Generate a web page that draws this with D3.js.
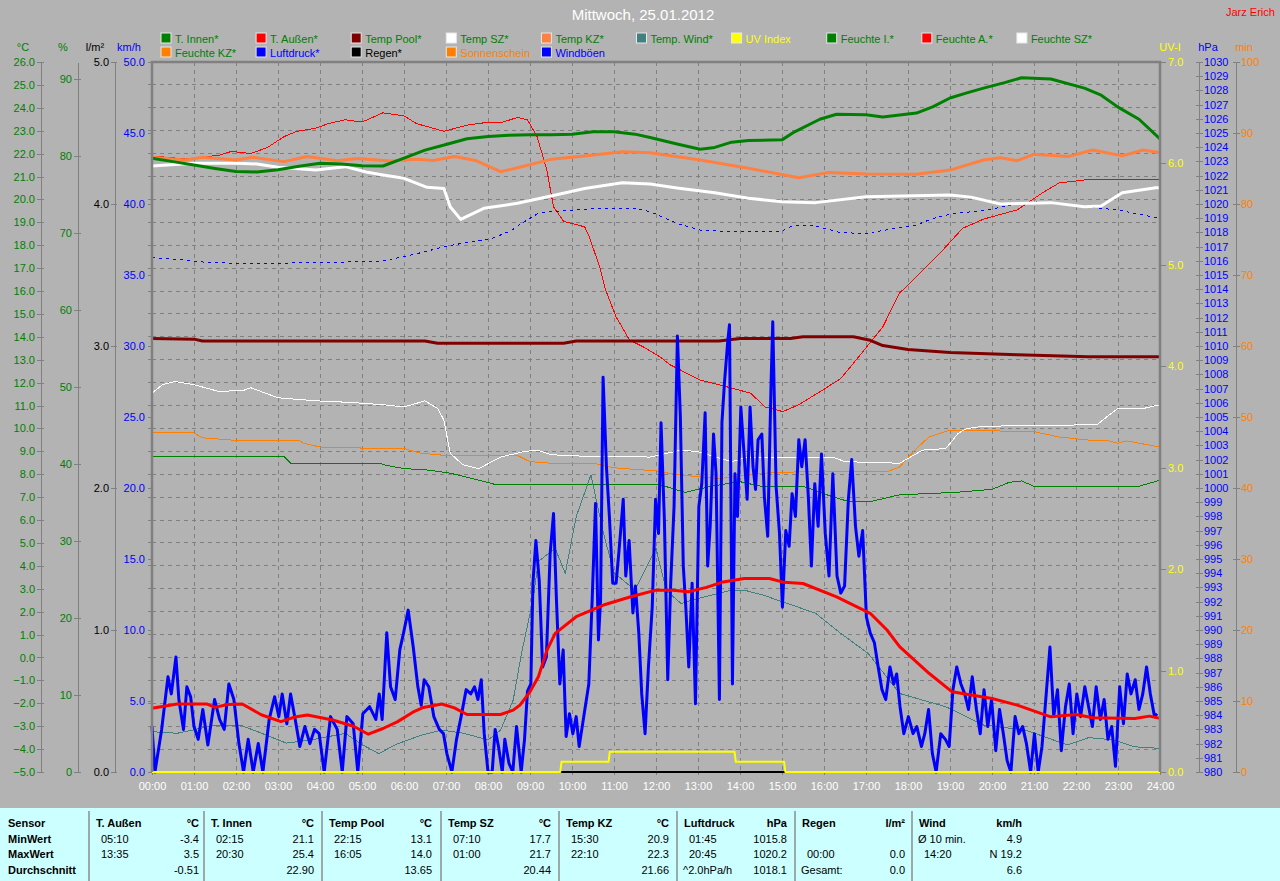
<!DOCTYPE html>
<html>
<head>
<meta charset="utf-8">
<script src="https://cdn.jsdelivr.net/npm/d3@7"></script>
<style>
  body { margin: 0; background: #b3b3b3; }
  svg { display: block; font-family: "Liberation Sans", Arial, sans-serif; }
</style>
</head>
<body>
<svg id="chart" width="1280" height="881"></svg>
<script>
// values, [hour, value]
const tInnen = [[0,21.8],[0.5,21.65],[1,21.5],[1.5,21.35],[2,21.22],[2.5,21.2],[3,21.3],[3.5,21.45],[4,21.58],[4.5,21.55],[5,21.47],[5.5,21.46],[6,21.8],[6.5,22.15],[7,22.4],[7.5,22.65],[8,22.75],[8.5,22.8],[9,22.82],[9.5,22.82],[10,22.85],[10.5,22.95],[11,22.95],[11.5,22.85],[11.86,22.7],[12.5,22.42],[13.05,22.19],[13.4,22.27],[13.8,22.5],[14.2,22.57],[15,22.6],[15.3,22.95],[15.9,23.5],[16.3,23.72],[17,23.7],[17.4,23.6],[18.2,23.77],[18.6,24.05],[19,24.43],[19.4,24.65],[19.8,24.86],[20.3,25.1],[20.7,25.31],[21.4,25.26],[22.2,24.86],[22.6,24.55],[23,24.03],[23.5,23.5],[24,22.64]];
const tAussen = [[0,-2.22],[0.6,-2.03],[1.3,-2.03],[1.5,-2.18],[1.8,-2.05],[2.15,-2.03],[2.6,-2.5],[3.07,-2.8],[3.4,-2.6],[3.7,-2.51],[4.3,-2.73],[4.8,-3.0],[5.15,-3.35],[5.5,-3.1],[5.85,-2.8],[6.2,-2.4],[6.46,-2.18],[6.9,-2.03],[7.2,-2.2],[7.5,-2.49],[8.3,-2.49],[8.6,-2.3],[8.76,-2.08],[9.0,-1.5],[9.2,-0.84],[9.4,0.3],[9.6,1.05],[10.1,1.78],[10.75,2.29],[11.4,2.65],[12,2.94],[12.4,2.94],[12.77,2.87],[13.2,3.06],[13.6,3.3],[14.1,3.45],[14.7,3.45],[15.05,3.28],[15.5,3.23],[16.3,2.65],[17.1,1.93],[17.5,1.2],[17.8,0.47],[18.5,-0.69],[19.05,-1.5],[20,-1.79],[20.6,-2.08],[21.4,-2.59],[22,-2.49],[22.4,-2.63],[23.4,-2.66],[23.75,-2.56],[24,-2.66]];
const tempPool = [[0,13.93],[1,13.9],[1.2,13.82],[6.5,13.82],[6.8,13.72],[9.8,13.72],[10.1,13.82],[13.5,13.82],[14,13.93],[15.2,13.93],[15.5,14.0],[16.7,14.0],[17.1,13.85],[17.4,13.62],[18,13.45],[19,13.32],[20.6,13.22],[22.3,13.13],[24,13.13]];
const tempSZ = [[0,21.46],[1,21.58],[2,21.58],[2.5,21.55],[3,21.4],[3.9,21.28],[4.6,21.43],[5.1,21.2],[5.5,21.07],[6,20.92],[6.55,20.53],[6.95,20.48],[7.1,19.68],[7.35,19.13],[7.9,19.61],[8.7,19.83],[9.5,20.15],[10.3,20.48],[11.2,20.73],[11.86,20.67],[12.5,20.5],[13.4,20.29],[14.2,20.05],[15,19.9],[15.8,19.86],[17,20.12],[19,20.19],[19.5,20.1],[20.2,19.8],[21.4,19.86],[22.2,19.68],[22.6,19.71],[23.1,20.29],[23.9,20.51],[24,20.51]];
const tempKZ = [[0,21.84],[0.8,21.72],[1.2,21.84],[2,21.72],[2.4,21.84],[3.14,21.65],[3.7,21.87],[4.4,21.69],[4.9,21.79],[5.67,21.68],[6.3,21.75],[6.7,21.7],[7.2,21.87],[7.7,21.7],[8.3,21.21],[8.8,21.43],[9.5,21.75],[10.3,21.9],[11.2,22.08],[11.86,22.04],[13.05,21.72],[14.2,21.36],[15.4,20.95],[16.1,21.17],[17,21.11],[18.2,21.1],[19,21.28],[19.8,21.72],[20.2,21.82],[20.6,21.69],[21,21.97],[21.8,21.87],[22.4,22.16],[23.1,21.9],[23.6,22.16],[24,22.04]];
const tempWind = [[0,-3.24],[0.6,-3.31],[1.5,-2.96],[2.1,-2.95],[2.6,-3.3],[3.2,-3.74],[3.8,-3.6],[4.6,-3.31],[5.0,-3.8],[5.4,-4.2],[5.8,-3.8],[6.4,-3.4],[6.9,-3.17],[7.4,-3.3],[8.0,-3.6],[8.3,-3.17],[8.6,-1.86],[8.8,0.2],[9.07,2.5],[9.2,4.2],[9.6,4.76],[9.84,3.67],[10.1,6.15],[10.45,7.97],[10.75,5.42],[11.0,3.7],[11.5,2.94],[12,4.76],[12.25,2.9],[12.6,2.36],[13.0,2.58],[13.8,2.94],[14.1,2.94],[14.6,2.7],[15,2.43],[15.3,2.25],[15.8,1.93],[16.4,1.05],[17.05,0.18],[17.8,-1.57],[18.9,-2.15],[19.8,-2.95],[20.8,-3.17],[21.8,-3.82],[22.3,-3.5],[22.9,-3.6],[23.4,-3.9],[24,-3.97]];
const uvIndex = [[0,0],[9.72,0],[9.75,0.1],[10.87,0.1],[10.9,0.2],[13.87,0.2],[13.9,0.1],[15.05,0.1],[15.08,0],[24,0]];
const feuchteI = [[0,41.0],[3.14,41.0],[3.3,40.1],[5.4,40.1],[5.6,39.8],[6,39.4],[6.6,39.2],[7.1,38.8],[7.6,38.15],[8.2,37.3],[12.1,37.3],[12.4,36.8],[12.7,36.3],[13.3,37.1],[14,37.7],[14.5,37.1],[15.5,37.1],[16.2,35.75],[16.6,35.1],[17.1,35.1],[17.8,36.0],[19.1,36.3],[20,36.7],[20.4,37.6],[20.7,37.8],[21,37.1],[23.5,37.1],[24,37.9]];
const feuchteA = [[0,80.0],[0.8,79.6],[1.6,80.1],[1.9,80.6],[2.35,80.3],[2.75,81.1],[3.14,82.5],[3.45,83.2],[3.9,83.6],[4.2,84.2],[4.6,84.7],[5,84.4],[5.5,85.6],[6,85.2],[6.3,84.2],[6.95,83.2],[7.5,84.0],[7.9,84.3],[8.3,84.3],[8.7,85.0],[8.94,84.7],[9.17,82.5],[9.4,78.2],[9.56,73.4],[9.8,71.5],[10.3,70.8],[10.4,69.7],[10.67,65.4],[10.8,62.6],[11.05,59.1],[11.37,56.1],[11.7,55.2],[12.1,53.9],[12.33,52.9],[13.05,50.9],[13.7,50.0],[14.25,49.2],[14.6,47.4],[15.02,46.8],[15.4,47.7],[15.97,49.6],[16.4,51.1],[16.9,54.4],[17.4,57.8],[17.8,62.2],[18.2,64.3],[18.8,67.6],[19.3,70.6],[19.8,71.8],[20.6,73.0],[21.2,75.2],[21.6,76.5],[22.4,77.0],[24,77.0]];
const feuchteSZ = [[0,49.2],[0.25,50.3],[0.55,50.7],[1,50.3],[1.6,49.4],[2.2,49.6],[2.35,49.9],[3,48.6],[3.9,48.2],[4.7,48.0],[5.5,47.7],[6,47.4],[6.5,48.2],[6.8,47.2],[6.95,45.7],[7.1,41.4],[7.4,39.9],[7.78,39.4],[8.3,40.9],[8.85,41.6],[9.17,41.8],[9.5,41.2],[10.3,41.0],[11.86,40.9],[12.6,41.8],[13,41.6],[13.8,40.3],[14.2,40.9],[16.2,40.9],[16.5,40.3],[17.8,40.1],[18.35,41.8],[18.9,42.0],[19.2,44.0],[19.4,44.6],[19.8,44.9],[22.5,45.1],[22.8,46.4],[23,47.2],[23.6,47.2],[24,47.7]];
const feuchteKZ = [[0,44.1],[0.98,44.1],[1.2,43.4],[1.9,43.1],[3.5,43.1],[3.6,42.7],[4,42.2],[4.9,42.2],[5,42.0],[6,42.0],[6.4,41.4],[7,41.1],[8.7,41.1],[9,40.3],[9.5,40.1],[10.5,40.1],[11,39.5],[12,39.1],[12.5,38.6],[13.5,38.1],[14.5,38.8],[15.5,39.0],[17.5,39.0],[17.8,39.6],[18.2,42.0],[18.5,43.5],[19,44.4],[21,44.2],[21.6,43.5],[22.3,43.1],[22.7,43.1],[23,42.7],[23.2,43.0],[24,42.2]];
const luftdruck = [[0,1016.22],[0.8,1016.06],[1,1015.94],[2,1015.82],[3.6,1015.85],[5.1,1015.94],[5.5,1016.0],[6,1016.29],[6.5,1016.64],[6.95,1016.99],[7.6,1017.35],[8.1,1017.58],[8.55,1018.12],[8.8,1018.64],[9.2,1019.34],[9.5,1019.46],[10.7,1019.7],[11.5,1019.7],[11.86,1019.46],[12.5,1018.64],[13.05,1018.17],[13.85,1018.05],[15,1018.1],[15.25,1018.47],[15.8,1018.45],[16.4,1017.98],[17,1017.93],[18.2,1018.52],[18.6,1018.99],[19.1,1019.34],[19.8,1019.53],[20.6,1020.0],[21,1020.16],[22.2,1019.81],[23,1019.58],[24,1018.99]];
const regen = [[0,0],[24,0]];
const sonnenschein = [[0,0],[24,0]];
const windboeen = [[0,3.2],[0.07,0],[0.23,3.0],[0.38,6.7],[0.46,5.5],[0.57,8.1],[0.64,5.1],[0.75,3.0],[0.83,6.0],[0.92,5.3],[1.0,3.2],[1.1,2.3],[1.21,4.4],[1.33,1.9],[1.49,5.1],[1.61,3.7],[1.72,3.0],[1.83,6.2],[1.95,5.1],[2.07,2.0],[2.18,0],[2.29,2.3],[2.41,0],[2.53,2.0],[2.64,0],[2.79,3.7],[2.92,5.3],[3.02,3.9],[3.1,5.5],[3.21,3.4],[3.3,5.5],[3.41,3.7],[3.52,1.8],[3.64,3.2],[3.76,2.0],[3.87,3.0],[3.98,2.7],[4.1,0],[4.25,3.9],[4.41,3.0],[4.53,0],[4.64,3.9],[4.79,3.4],[4.9,0],[5.02,4.1],[5.18,4.6],[5.33,3.7],[5.41,5.5],[5.48,3.7],[5.59,9.8],[5.68,6.0],[5.79,5.1],[5.9,8.6],[5.99,9.8],[6.1,11.4],[6.22,8.8],[6.33,6.0],[6.41,4.7],[6.48,6.5],[6.59,6.0],[6.71,3.9],[6.84,3.0],[6.94,2.7],[7.02,1.3],[7.14,0],[7.25,2.3],[7.36,3.9],[7.48,5.8],[7.59,5.5],[7.68,6.0],[7.76,5.1],[7.84,6.5],[7.91,2.7],[8.0,0],[8.1,0],[8.17,3.0],[8.25,1.8],[8.34,0],[8.4,2.3],[8.5,0.6],[8.59,0],[8.68,3.2],[8.79,0],[8.87,2.3],[8.94,5.7],[9.02,6.2],[9.07,13.3],[9.14,16.3],[9.22,13.5],[9.3,7.4],[9.39,8.1],[9.48,15.4],[9.56,18.2],[9.63,12.1],[9.71,6.2],[9.79,8.6],[9.86,2.5],[9.94,4.1],[10.02,2.7],[10.1,3.9],[10.17,1.8],[10.28,3.9],[10.4,6.2],[10.48,12.1],[10.56,18.9],[10.63,9.3],[10.68,12.1],[10.74,27.8],[10.82,21.5],[10.89,18.0],[10.97,13.3],[11.05,13.3],[11.12,15.6],[11.22,19.2],[11.28,13.8],[11.36,16.3],[11.45,11.2],[11.51,13.1],[11.59,9.8],[11.66,5.5],[11.74,2.7],[11.82,7.4],[11.91,11.6],[11.99,19.2],[12.06,16.8],[12.12,24.6],[12.2,17.7],[12.28,6.5],[12.35,13.3],[12.43,18.7],[12.51,30.7],[12.58,25.0],[12.65,14.5],[12.71,11.6],[12.78,7.4],[12.86,13.3],[12.94,4.8],[13.02,18.7],[13.09,20.3],[13.17,25.3],[13.23,14.5],[13.29,17.3],[13.37,23.8],[13.43,21.0],[13.51,5.1],[13.57,24.6],[13.63,27.4],[13.71,30.4],[13.75,31.5],[13.82,6.2],[13.88,21.0],[13.94,18.0],[14.02,25.7],[14.09,22.7],[14.17,19.2],[14.24,25.7],[14.31,21.5],[14.37,19.9],[14.43,23.4],[14.52,23.8],[14.58,19.4],[14.66,16.6],[14.74,27.4],[14.78,31.7],[14.86,20.1],[14.94,16.8],[15.01,11.6],[15.09,17.0],[15.17,15.9],[15.24,19.6],[15.32,18.0],[15.4,23.4],[15.47,21.5],[15.55,23.4],[15.63,19.2],[15.7,14.5],[15.78,20.3],[15.86,17.3],[15.94,22.4],[16.03,16.8],[16.12,13.8],[16.21,21.0],[16.31,13.8],[16.4,12.6],[16.49,13.1],[16.58,19.2],[16.66,22.0],[16.75,17.3],[16.83,15.2],[16.92,17.0],[17.01,10.9],[17.1,9.8],[17.2,9.1],[17.29,7.4],[17.38,5.8],[17.47,5.1],[17.57,7.4],[17.66,6.2],[17.73,6.9],[17.81,4.6],[17.9,2.7],[18.01,3.9],[18.12,2.7],[18.21,3.2],[18.32,1.8],[18.4,2.7],[18.49,4.4],[18.58,1.3],[18.67,0],[18.78,2.7],[18.89,2.3],[18.98,1.8],[19.07,5.8],[19.16,7.4],[19.26,6.2],[19.35,5.5],[19.44,4.4],[19.53,6.7],[19.63,4.4],[19.72,2.7],[19.81,5.8],[19.9,3.2],[19.99,5.1],[20.09,1.5],[20.18,4.4],[20.27,2.7],[20.36,0.8],[20.45,0],[20.55,3.9],[20.64,2.7],[20.73,3.2],[20.82,2.0],[20.92,0],[21.01,2.7],[21.1,0],[21.19,1.8],[21.28,5.1],[21.38,8.8],[21.47,3.9],[21.56,5.8],[21.65,1.5],[21.75,4.6],[21.84,6.2],[21.93,2.7],[22.02,5.5],[22.11,3.9],[22.21,6.0],[22.3,4.6],[22.39,3.2],[22.48,6.0],[22.58,3.7],[22.67,5.1],[22.76,2.3],[22.85,3.2],[22.94,0.4],[23.04,6.0],[23.13,3.4],[23.22,6.9],[23.31,5.5],[23.41,6.5],[23.5,4.4],[23.59,5.5],[23.68,7.4],[23.77,5.5],[23.87,3.9],[23.93,4.1]];

// legend
const legendNames = ['T. Innen*','T. Außen*','Temp Pool*','Temp SZ*','Temp KZ*','Temp. Wind*','UV Index','Feuchte I.*','Feuchte A.*','Feuchte SZ*','Feuchte KZ*','Luftdruck*','Regen*','Sonnenschein','Windböen'];
const legendSwatch = ['#008000','#ff0000','#800000','#ffffff','#ff8040','#408080','#ffff00','#008000','#ff0000','#ffffff','#ff8000','#0000ff','#000000','#ff8000','#0000ff'];
const legendText = ['#008000','#008000','#008000','#008000','#008000','#008000','#ffff00','#008000','#008000','#008000','#008000','#0000ff','#000000','#ff8000','#0000ff'];

// summary table
const tableRowLabels = ['Sensor','MinWert','MaxWert','Durchschnitt'];
const tableNames = ['T. Außen','T. Innen','Temp Pool','Temp SZ','Temp KZ','Luftdruck','Regen','Wind'];
const tableUnits = ['°C','°C','°C','°C','°C','hPa','l/m²','km/h'];
const tableTimes = [['05:10','13:35',''],['02:15','20:30',''],['22:15','16:05',''],['07:10','01:00',''],['15:30','22:10',''],['01:45','20:45','^2.0hPa/h'],['','00:00','Gesamt:'],['Ø 10 min.','14:20','']];
const tableValues = [['-3.4','3.5','-0.51'],['21.1','25.4','22.90'],['13.1','14.0','13.65'],['17.7','21.7','20.44'],['20.9','22.3','21.66'],['1015.8','1020.2','1018.1'],['','0.0','0.0'],['4.9','N 19.2','6.6']];

const svg = d3.select('#chart');
const plotL = 152, plotR = 1160, plotT = 62, plotB = 772;
const grid = '#808080';

const x = d3.scaleLinear().domain([0, 24]).range([plotL, plotR]);
const yC = d3.scaleLinear().domain([-5, 26]).range([plotB, plotT]);
const yPct = d3.scaleLinear().domain([0, 92.2]).range([plotB, plotT]);
const yRain = d3.scaleLinear().domain([0, 5]).range([plotB, plotT]);
const yWind = d3.scaleLinear().domain([0, 50]).range([plotB, plotT]);
const yUv = d3.scaleLinear().domain([0, 7]).range([plotB, plotT]);
const yHpa = d3.scaleLinear().domain([980, 1030]).range([plotB, plotT]);
const yMin = d3.scaleLinear().domain([0, 100]).range([plotB, plotT]);

svg.append('rect').attr('width', 1280).attr('height', 881).attr('fill', '#b3b3b3');

// grid
svg.append('g').attr('shape-rendering', 'crispEdges').selectAll('line').data(d3.range(-4, 26)).join('line')
  .attr('x1', plotL).attr('x2', plotR)
  .attr('y1', d => yC(d)).attr('y2', d => yC(d))
  .attr('stroke', grid).attr('stroke-dasharray', '4,4');
svg.append('g').attr('shape-rendering', 'crispEdges').selectAll('line').data(d3.range(1, 24)).join('line')
  .attr('x1', d => x(d)).attr('x2', d => x(d))
  .attr('y1', plotT).attr('y2', plotB)
  .attr('stroke', grid).attr('stroke-dasharray', '4,4');

// small ticks on the plot edge at every grid line
svg.append('g').attr('shape-rendering', 'crispEdges').selectAll('line').data(d3.range(-4, 26)).join('line')
  .attr('x1', plotL - 4).attr('x2', plotL)
  .attr('y1', d => yC(d)).attr('y2', d => yC(d))
  .attr('stroke', grid);

const styleAxis = (g, color, tickFrom, tickTo) => {
  g.attr('font-family', null).attr('font-size', 11).attr('shape-rendering', 'crispEdges');
  g.select('.domain').attr('stroke', grid).attr('stroke-width', 1.5);
  g.selectAll('.tick line').attr('stroke', grid).attr('x1', tickFrom).attr('x2', tickTo);
  g.selectAll('.tick text').attr('fill', color);
};

const f1 = d3.format('.1f');

// left axes
svg.append('g').attr('transform', 'translate(41,0)')
  .call(d3.axisLeft(yC).tickValues(d3.range(-5, 27)).tickFormat(f1).tickSizeOuter(0).tickSizeInner(0).tickPadding(6))
  .call(g => styleAxis(g, '#008000', -4, 3));
svg.append('g').attr('transform', 'translate(78,0)')
  .call(d3.axisLeft(yPct).tickValues(d3.range(0, 91, 10)).tickFormat(d3.format('d')).tickSizeOuter(0).tickSizeInner(0).tickPadding(6))
  .call(g => styleAxis(g, '#008000', -4, 3));
svg.append('g').attr('transform', 'translate(115,0)')
  .call(d3.axisLeft(yRain).tickValues(d3.range(0, 6)).tickFormat(f1).tickSizeOuter(0).tickSizeInner(0).tickPadding(6))
  .call(g => styleAxis(g, '#000000', -4, 2));
svg.append('g').attr('transform', `translate(${plotL},0)`)
  .call(d3.axisLeft(yWind).tickValues(d3.range(0, 51, 5)).tickFormat(f1).tickSizeOuter(0).tickSizeInner(0).tickPadding(7))
  .call(g => styleAxis(g, '#0000ff', -4, 0))
  .call(g => g.select('.domain').remove());

// right axes
svg.append('g').attr('transform', `translate(${plotR},0)`)
  .call(d3.axisRight(yUv).tickValues(d3.range(0, 8)).tickFormat(f1).tickSizeOuter(0).tickSizeInner(0).tickPadding(8))
  .call(g => styleAxis(g, '#ffff00', 1, 6))
  .call(g => g.select('.domain').remove());
svg.append('g').attr('transform', 'translate(1199,0)')
  .call(d3.axisRight(yHpa).tickValues(d3.range(980, 1031)).tickFormat(d3.format('d')).tickSizeOuter(0).tickSizeInner(0).tickPadding(5))
  .call(g => styleAxis(g, '#0000ff', -3, 4));
svg.append('g').attr('transform', 'translate(1236,0)')
  .call(d3.axisRight(yMin).tickValues(d3.range(0, 101, 10)).tickFormat(d3.format('d')).tickSizeOuter(0).tickSizeInner(0).tickPadding(5))
  .call(g => styleAxis(g, '#ff8000', -3, 4));

// x axis
svg.append('g').attr('transform', `translate(0,${plotB})`)
  .call(d3.axisBottom(x).tickValues(d3.range(0, 25)).tickFormat(h => String(h).padStart(2, '0') + ':00').tickSizeOuter(0).tickSize(3).tickPadding(7))
  .call(g => {
    g.attr('font-family', null).attr('font-size', 11);
    g.select('.domain').remove();
    g.selectAll('.tick line').attr('stroke', grid);
    g.selectAll('.tick text').attr('fill', '#ffffff');
  });

// axis headers
const headers = [['°C', 23, '#008000'], ['%', 63, '#008000'], ['l/m²', 95, '#000000'], ['km/h', 129, '#0000ff'],
  ['UV-I', 1170, '#ffff00'], ['hPa', 1208, '#0000ff'], ['min', 1244, '#ff8000']];
svg.append('g').selectAll('text').data(headers).join('text')
  .attr('x', d => d[1]).attr('y', 51).attr('text-anchor', 'middle')
  .attr('font-size', 11).attr('fill', d => d[2]).text(d => d[0]);

// series
const series = [
  [sonnenschein, yMin, '#ff8000', 1],
  [regen, yRain, '#000000', 2],
  [feuchteI, yPct, '#008000', 1],
  [feuchteKZ, yPct, '#ff8000', 1],
  [feuchteSZ, yPct, '#ffffff', 1],
  [feuchteA, yPct, '#ff0000', 1],
  [luftdruck, yHpa, '#0000ff', 1, '3,4'],
  [tempWind, yC, '#408080', 1],
  [tempPool, yC, '#800000', 3],
  [windboeen, yWind, '#0000ff', 3],
  [tempSZ, yC, '#ffffff', 3],
  [tempKZ, yC, '#ff8040', 3],
  [tInnen, yC, '#008000', 3],
  [tAussen, yC, '#ff0000', 3],
  [uvIndex, yUv, '#ffff00', 2]
];
series.forEach(([data, yScale, color, width, dash]) => {
  const line = d3.line().x(d => x(d[0])).y(d => yScale(d[1]));
  svg.append('path').datum(data)
    .attr('d', line)
    .attr('fill', 'none')
    .attr('stroke', color)
    .attr('stroke-width', width)
    .attr('stroke-linejoin', 'round')
    .attr('shape-rendering', width === 1 ? 'crispEdges' : null)
    .attr('stroke-dasharray', dash || null);
});

// plot frame
svg.append('path')
  .attr('d', `M${plotL},${plotB}V${plotT}H${plotR}V${plotB}`)
  .attr('fill', 'none').attr('stroke', grid).attr('stroke-width', 2.5);

// title
svg.append('text').attr('x', 643).attr('y', 20).attr('text-anchor', 'middle')
  .attr('font-size', 15).attr('fill', '#ffffff').text('Mittwoch, 25.01.2012');
svg.append('text').attr('x', 1226).attr('y', 16)
  .attr('font-size', 11).attr('fill', '#ff0000').text('Jarz Erich');

// legend
const legend = svg.append('g').selectAll('g').data(legendNames).join('g')
  .attr('transform', (d, i) => `translate(${161 + (i % 10) * 95.1},${i < 10 ? 33 : 47})`);
legend.append('rect').attr('width', 10).attr('height', 10)
  .attr('fill', (d, i) => legendSwatch[i]).attr('stroke', '#e8e8e8').attr('stroke-width', 1);
legend.append('text').attr('x', 14).attr('y', 9.5).attr('font-size', 11)
  .attr('fill', (d, i) => legendText[i]).text(d => d);

// summary table
const tbl = svg.append('g');
const rowY = [827, 843, 858, 874];
const groupX = [89, 204, 322, 441, 559, 677, 795, 912];
tbl.append('rect').attr('x', 0).attr('y', 808).attr('width', 1280).attr('height', 73).attr('fill', '#ccffff');
tbl.selectAll('line').data(groupX).join('line')
  .attr('x1', d => d).attr('x2', d => d).attr('y1', 811).attr('y2', 881)
  .attr('stroke', '#8c8c8c').attr('stroke-width', 1.5);
tbl.selectAll('text.rowlab').data(tableRowLabels).join('text').attr('class', 'rowlab')
  .attr('x', 8).attr('y', (d, i) => rowY[i]).attr('font-size', 11).attr('font-weight', 'bold').text(d => d);

tableNames.forEach((name, gi) => {
  const s = groupX[gi];
  tbl.append('text').attr('x', s + 7).attr('y', rowY[0]).attr('font-size', 11).attr('font-weight', 'bold').text(name);
  tbl.append('text').attr('x', s + 110).attr('y', rowY[0]).attr('text-anchor', 'end')
    .attr('font-size', 11).attr('font-weight', 'bold').text(tableUnits[gi]);
  tableTimes[gi].forEach((t, ri) => {
    const isTime = /^\d\d:\d\d$/.test(t);
    tbl.append('text').attr('x', s + (isTime ? 12 : 6)).attr('y', rowY[ri + 1])
      .attr('font-size', 11).text(t);
  });
  tableValues[gi].forEach((v, ri) => {
    tbl.append('text').attr('x', s + 110).attr('y', rowY[ri + 1]).attr('text-anchor', 'end')
      .attr('font-size', 11).text(v);
  });
});
</script>
</body>
</html>
